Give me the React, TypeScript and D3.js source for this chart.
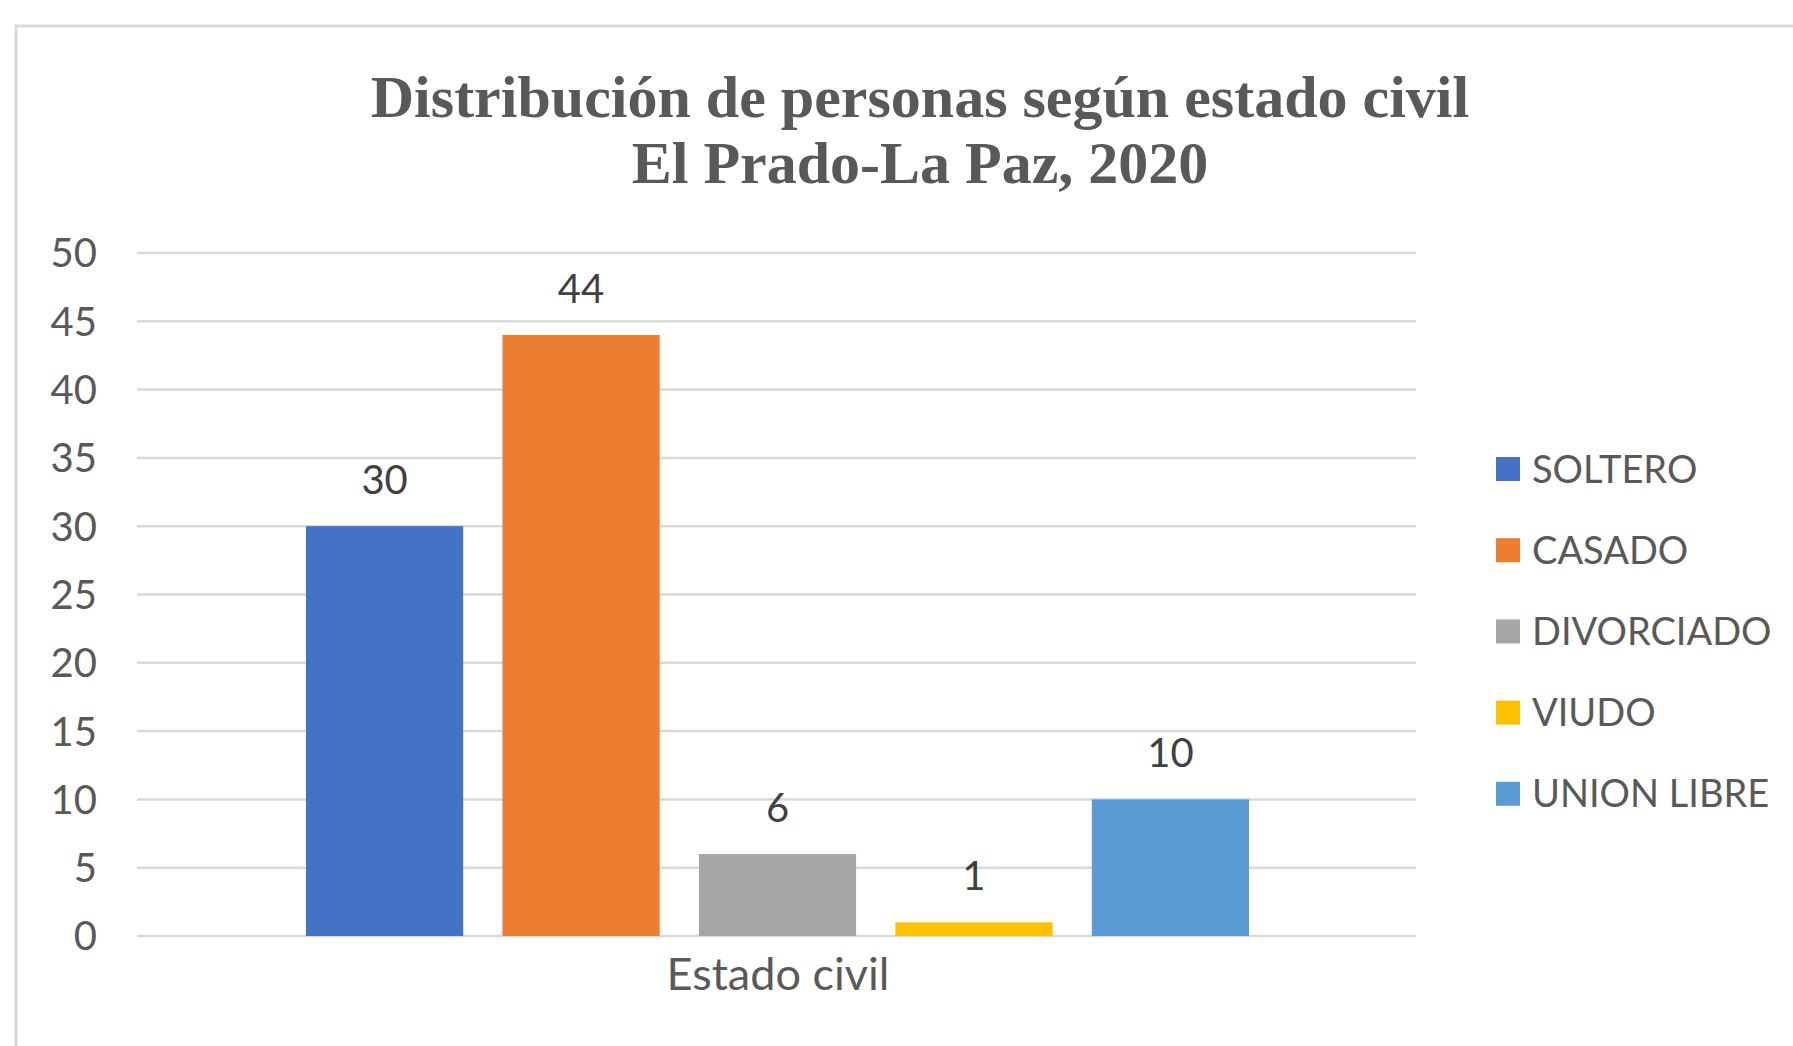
import { useEffect, useRef } from "react";
import * as d3 from "d3";

const categories = ["SOLTERO", "CASADO", "DIVORCIADO", "VIUDO", "UNION LIBRE"];
const values = [30, 44, 6, 1, 10];
const colors = ["#4472C4", "#ED7D31", "#A5A5A5", "#FFC000", "#5B9BD5"];
const yTicks = [0, 5, 10, 15, 20, 25, 30, 35, 40, 45, 50];
const titleLines = ["Distribución de personas según estado civil", "El Prado-La Paz, 2020"];
const axisTitle = "Estado civil";

const W = 1793;
const H = 1046;
const textColor = "#595959";
const sans = "Lato, 'Open Sans', sans-serif";

const App = () => {
  const ref = useRef<SVGSVGElement>(null);

  useEffect(() => {
    if (!ref.current) return;
    const svg = d3.select(ref.current);
    svg.selectAll("*").remove();

    const plot = { left: 137, right: 1416, top: 253, bottom: 936 };

    // chart frame
    svg.append("rect")
      .attr("x", 16).attr("y", 26)
      .attr("width", W + 20).attr("height", H + 20)
      .attr("fill", "white")
      .attr("stroke", "#d9d9d9").attr("stroke-width", 3);

    // title
    svg.append("text")
      .attr("text-anchor", "middle")
      .attr("fill", textColor)
      .style("font-family", "'Liberation Serif', 'Times New Roman', serif")
      .style("font-weight", "bold")
      .style("font-size", "60px")
      .selectAll("tspan")
      .data(titleLines)
      .enter()
      .append("tspan")
      .attr("x", 920)
      .attr("y", (d, i) => 117 + i * 66)
      .text((d) => d);

    const y = d3.scaleLinear().domain([0, 50]).range([plot.bottom, plot.top]);

    const x = d3.scaleBand()
      .domain(categories)
      .range([306, 1249])
      .paddingInner(0.2)
      .paddingOuter(0);

    // gridlines
    svg.append("g")
      .selectAll("line")
      .data(yTicks)
      .enter()
      .append("line")
      .attr("x1", plot.left).attr("x2", plot.right)
      .attr("y1", (d) => y(d)).attr("y2", (d) => y(d))
      .attr("stroke", "#d9d9d9").attr("stroke-width", 2.5);

    // y tick labels
    svg.append("g")
      .selectAll("text")
      .data(yTicks)
      .enter()
      .append("text")
      .attr("x", 97)
      .attr("y", (d) => y(d))
      .attr("dy", "0.36em")
      .attr("text-anchor", "end")
      .attr("fill", textColor)
      .style("font-family", sans)
      .style("font-size", "40px")
      .text((d) => d);

    // bars
    svg.append("g")
      .selectAll("rect")
      .data(values)
      .enter()
      .append("rect")
      .attr("x", (d, i) => x(categories[i])!)
      .attr("y", (d) => y(d))
      .attr("width", x.bandwidth())
      .attr("height", (d) => y(0) - y(d))
      .attr("fill", (d, i) => colors[i]);

    // value labels
    svg.append("g")
      .selectAll("text")
      .data(values)
      .enter()
      .append("text")
      .attr("x", (d, i) => x(categories[i])! + x.bandwidth() / 2)
      .attr("y", (d) => y(d) - 32)
      .attr("text-anchor", "middle")
      .attr("fill", "#404040")
      .style("font-family", sans)
      .style("font-size", "40px")
      .text((d) => d);

    // x axis title
    svg.append("text")
      .attr("x", 778)
      .attr("y", 990)
      .attr("text-anchor", "middle")
      .attr("fill", textColor)
      .style("font-family", sans)
      .style("font-size", "45px")
      .text(axisTitle);

    // legend
    const legend = svg.append("g")
      .selectAll("g")
      .data(categories)
      .enter()
      .append("g")
      .attr("transform", (d, i) => `translate(1496,${469 + i * 81.2})`);

    legend.append("rect")
      .attr("x", 0).attr("y", -12)
      .attr("width", 24).attr("height", 24)
      .attr("fill", (d, i) => colors[i]);

    legend.append("text")
      .attr("x", 36)
      .attr("dy", "0.36em")
      .attr("fill", textColor)
      .style("font-family", sans)
      .style("font-size", "38px")
      .text((d) => d);
  }, []);

  return (
    <svg
      ref={ref}
      width={W}
      height={H}
      style={{ position: "absolute", left: 0, top: 0, background: "white" }}
    />
  );
};

export default App;
